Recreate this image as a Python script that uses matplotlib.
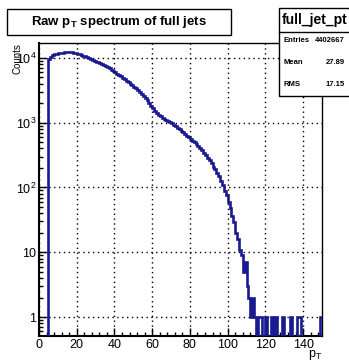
import numpy as np
import matplotlib
matplotlib.use('Agg')
import matplotlib.pyplot as plt
from matplotlib.patches import Rectangle
from matplotlib.lines import Line2D
from matplotlib.ticker import FixedLocator, FixedFormatter, MultipleLocator, LogLocator, NullFormatter

plt.rcParams['font.family'] = ['Liberation Sans', 'DejaVu Sans']
plt.rcParams['mathtext.fontset'] = 'custom'
plt.rcParams['mathtext.rm'] = 'Liberation Sans'
plt.rcParams['mathtext.it'] = 'Liberation Sans'

# histogram: 150 bins of width 1 GeV from 0 to 150
bin_edges = np.arange(0, 151, 1)
counts = [
    0, 0, 0, 0, 0, 9500, 10500, 11000, 11400, 11700,
    11900, 12000, 12100, 12150, 12200, 12200, 12200, 12150, 12050, 11900,
    11700, 11450, 11200, 10900, 10600, 10300, 10000, 9700, 9400, 9100,
    8800, 8550, 8300, 8050, 7800, 7500, 7200, 6900, 6600, 6300,
    6000, 5700, 5450, 5200, 4950, 4700, 4450, 4250, 4000, 3800,
    3600, 3400, 3200, 3000, 2800, 2600, 2420, 2250, 2000, 1820,
    1660, 1530, 1420, 1330, 1260, 1200, 1140, 1090, 1050, 1010,
    975, 930, 880, 840, 790, 750, 710, 670, 630, 600,
    565, 530, 495, 465, 435, 405, 375, 345, 318, 290,
    262, 238, 210, 190, 166, 148, 125, 108, 88, 76,
    60, 48, 36, 29, 20, 16, 11, 9, 5, 7,
    3, 2, 1, 2, 1, 0, 1, 1, 0, 0,
    1, 0, 0, 1, 0, 1, 0, 0, 0, 1,
    0, 0, 0, 1, 0, 0, 0, 1, 1, 0,
    0, 0, 0, 0, 0, 0, 0, 0, 0, 1,
]

x_ticks = [0, 20, 40, 60, 80, 100, 120, 140]
y_ticks = [1, 10, 100, 1000, 10000]
y_tick_labels = ['1', '10', r'$\mathregular{10^{2}}$', r'$\mathregular{10^{3}}$', r'$\mathregular{10^{4}}$']

stat_names = ['Entries', 'Mean', 'RMS']
stat_values = ['4402667', '27.89', '17.15']

W, H = 349, 364
fig = plt.figure(figsize=(W / 100, H / 100), dpi=100)
fig.patch.set_facecolor('white')

ax = fig.add_axes([39 / W, (H - 336) / H, 283 / W, 293 / H])

vals = np.array(counts, dtype=float)
vals = np.where(vals > 0, vals, 1e-3)   # empty bins drop below the frame like ROOT
ax.stairs(vals, bin_edges, color='#1a1a90', linewidth=1.9, baseline=None, zorder=3)

ax.set_yscale('log')
ax.set_xlim(0, 150)
ax.set_ylim(0.51, 1.7e4)

ax.xaxis.set_major_locator(FixedLocator(x_ticks))
ax.xaxis.set_minor_locator(MultipleLocator(4))
ax.yaxis.set_major_locator(FixedLocator(y_ticks))
ax.yaxis.set_major_formatter(FixedFormatter(y_tick_labels))
ax.yaxis.set_minor_locator(LogLocator(base=10, subs=np.arange(2, 10)))
ax.yaxis.set_minor_formatter(NullFormatter())

ax.tick_params(which='both', direction='in', top=False, right=False, labelsize=9, pad=2)
ax.tick_params(which='major', length=6, width=1)
ax.tick_params(which='minor', length=3, width=1)

ax.grid(True, which='major', color='black', linestyle=(0, (1, 2.5)), linewidth=1.0)

for side, sp in ax.spines.items():
    sp.set_color('black')
    sp.set_linewidth(1.5 if side in ('left', 'bottom') else 1.0)

ax.set_ylabel('Counts', fontsize=7, loc='top')
ax.yaxis.set_label_coords(-0.058, 1.0)
ax.set_xlabel(r'$\mathregular{p_{T}}$', fontsize=9, loc='right')
ax.xaxis.set_label_coords(1.0, -0.04)

# title box
fig.add_artist(Rectangle((7 / W, 1 - 35 / H), 224 / W, 26 / H, transform=fig.transFigure,
                         fill=False, edgecolor='black', linewidth=1.0))
fig.text(119 / W, 1 - 22 / H, r'Raw $\mathregular{p_{T}}$ spectrum of full jets',
         ha='center', va='center', fontsize=9.5, fontweight='bold')

# stats box
fig.add_artist(Rectangle((279 / W, 1 - 96 / H), 80 / W, 88 / H, transform=fig.transFigure,
                         facecolor='white', edgecolor='black', linewidth=1.0, zorder=5))
fig.add_artist(Line2D([279 / W, 1.0], [1 - 32 / H, 1 - 32 / H], transform=fig.transFigure,
                      color='black', linewidth=1.0, zorder=6))
fig.text(315 / W, 1 - 20 / H, 'full_jet_pt', ha='center', va='center',
         fontsize=10, fontweight='bold', zorder=7)
for i, (name, value) in enumerate(zip(stat_names, stat_values)):
    y = 1 - (41 + 22 * i) / H
    fig.text(283 / W, y, name, ha='left', va='center', fontsize=5.5, fontweight='bold', zorder=7)
    fig.text(345 / W, y, value, ha='right', va='center', fontsize=5.5, fontweight='bold', zorder=7)

fig.savefig('out.png', dpi=100)
